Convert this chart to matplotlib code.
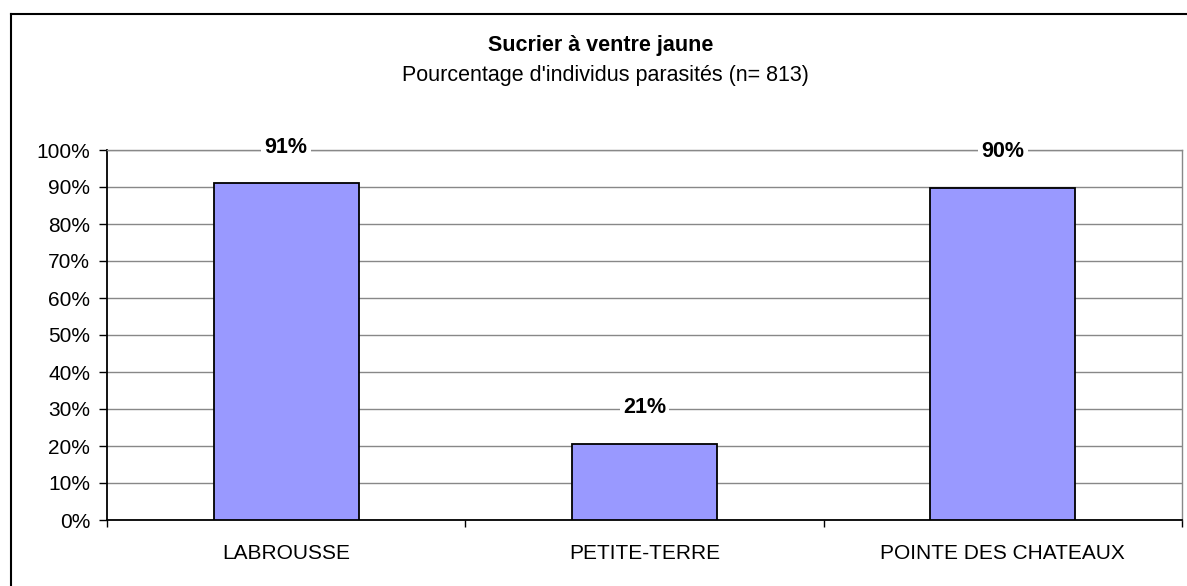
import matplotlib
matplotlib.use("Agg")
import matplotlib.pyplot as plt
from matplotlib.lines import Line2D
import numpy as np

categories = ["LABROUSSE", "PETITE-TERRE", "POINTE DES CHATEAUX"]
values = [91.0, 20.6, 89.8]
yticks = [0, 10, 20, 30, 40, 50, 60, 70, 80, 90, 100]
title = "Sucrier à ventre jaune"
subtitle = "Pourcentage d'individus parasités (n= 813)"

plt.rcParams['font.family'] = ['Liberation Sans', 'DejaVu Sans']

W, H = 1187, 586
fig = plt.figure(figsize=(W / 100, H / 100), dpi=100)
ax = fig.add_axes([107 / W, 1 - 520 / H, (1182 - 107) / W, (520 - 150) / H])

x = np.arange(len(categories))
ax.bar(x, values, width=0.405, color="#9999FF", edgecolor="black", linewidth=1.3, zorder=3)
ax.set_xlim(-0.5, len(categories) - 0.5)
ax.set_ylim(0, 100)

ax.set_yticks(yticks)
ax.set_yticklabels([f"{t}%" for t in yticks], fontsize=15)
ax.yaxis.grid(True, color="#888888", linewidth=1.0, zorder=0)
ax.set_xticks(x)
ax.set_xticklabels(categories, fontsize=15)
ax.tick_params(axis="x", length=0, pad=17)
ax.tick_params(axis="y", length=6, width=1, pad=6)
ax.set_xticks(np.arange(len(categories) + 1) - 0.5, minor=True)
ax.tick_params(axis="x", which="minor", length=5, width=1, direction="out")

for s in ["left", "bottom"]:
    ax.spines[s].set_color("black")
    ax.spines[s].set_linewidth(1.3)
for s in ["top", "right"]:
    ax.spines[s].set_color("#888888")
    ax.spines[s].set_linewidth(1.0)

for xi, v in zip(x, values):
    ax.annotate(f"{round(v):.0f}%", xy=(xi, v), xytext=(0, 36), textcoords="offset pixels",
                ha="center", va="center", fontsize=15.5, fontweight="bold", zorder=5,
                bbox=dict(boxstyle="square,pad=0.15", fc="white", ec="none"))

fig.text(601 / W, 1 - 46 / H, title, ha="center", va="center", fontsize=15.5, fontweight="bold")
fig.text(605 / W, 1 - 75 / H, subtitle, ha="center", va="center", fontsize=15.5)

# outer chart frame (left and top edges visible)
fig.add_artist(Line2D([11 / W, 11 / W], [0, 1 - 14 / H], transform=fig.transFigure, color="black", linewidth=1.5))
fig.add_artist(Line2D([11 / W, 1], [1 - 14 / H, 1 - 14 / H], transform=fig.transFigure, color="black", linewidth=1.5))

fig.savefig("out.png", dpi=100)
